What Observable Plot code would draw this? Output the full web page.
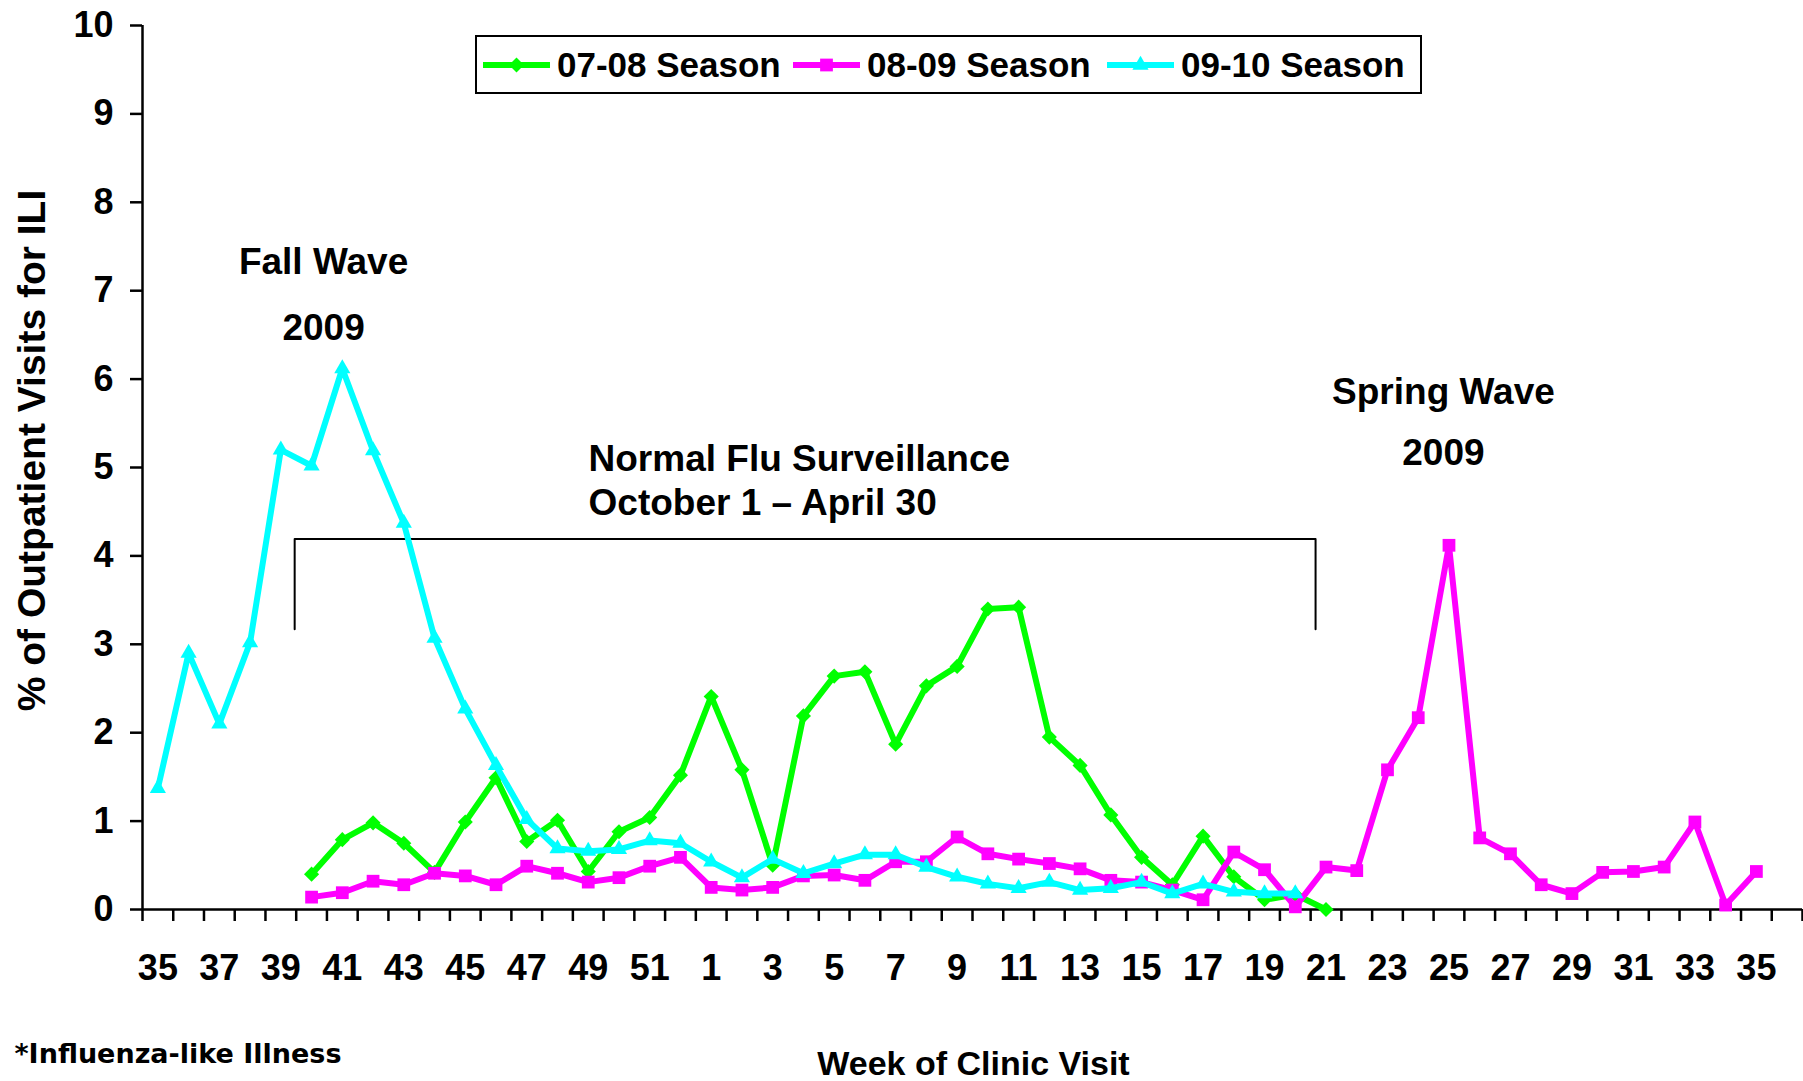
<!DOCTYPE html>
<html>
<head>
<meta charset="utf-8">
<script src="https://cdn.jsdelivr.net/npm/d3@7"></script>
<script src="https://cdn.jsdelivr.net/npm/@observablehq/plot@0.6"></script>
<style>
html, body { margin: 0; padding: 0; background: #fff; }
#wrap { position: relative; width: 1803px; height: 1081px; font-family: "Liberation Sans", Arial, sans-serif; font-weight: bold; color: #000; overflow: hidden; }
#legend { position: absolute; left: 475px; top: 35px; width: 947px; height: 59px; box-sizing: border-box; border: 2px solid #000; background: #fff; }
.item { position: absolute; top: 0; height: 55px; display: flex; align-items: center; font-size: 35px; white-space: nowrap; }
.item svg { margin-right: 7px; display: block; }
</style>
</head>
<body>
<div id="wrap"></div>
<script>
// ---------- data ----------
const weeks = [35,36,37,38,39,40,41,42,43,44,45,46,47,48,49,50,51,52,
  1,2,3,4,5,6,7,8,9,10,11,12,13,14,15,16,17,18,19,20,21,22,23,24,25,26,27,28,29,30,31,32,33,34,35];

const season0708 = [null,null,null,null,null,
  0.40,0.79,0.98,0.75,0.42,0.99,1.49,0.77,1.01,0.43,0.88,1.04,1.52,
  2.41,1.58,0.50,2.19,2.64,2.69,1.87,2.53,2.75,3.40,3.42,1.95,1.63,1.07,0.59,0.28,0.83,0.37,0.11,0.17,0.00,
  null,null,null,null,null,null,null,null,null,null,null,null,null,null];

const season0809 = [null,null,null,null,null,
  0.14,0.19,0.32,0.28,0.41,0.38,0.28,0.49,0.41,0.31,0.36,0.49,0.59,
  0.25,0.22,0.25,0.38,0.39,0.33,0.54,0.54,0.82,0.63,0.57,0.52,0.46,0.33,0.31,0.22,0.11,0.65,0.45,0.03,0.48,
  0.44,1.58,2.17,4.12,0.81,0.63,0.28,0.18,0.42,0.43,0.48,0.99,0.05,0.43];

const season0910 = [1.37,2.90,2.10,3.02,5.20,5.02,6.12,5.19,4.37,3.07,2.27,1.63,1.02,0.69,0.66,0.68,0.78,0.75,
  0.54,0.36,0.57,0.41,0.52,0.62,0.62,0.48,0.37,0.29,0.24,0.31,0.22,0.24,0.31,0.18,0.29,0.20,0.18,0.18,
  null,null,null,null,null,null,null,null,null,null,null,null,null,null,null];

const seasonNames = ["07-08 Season", "08-09 Season", "09-10 Season"];
const yTicks = [0,1,2,3,4,5,6,7,8,9,10];
const yTitle = "% of Outpatient Visits for ILI";
const xTitle = "Week of Clinic Visit";
const footnote = "*Influenza-like Illness";

// centred wave annotations (week slot, % value)
const waveText = ["Fall Wave", "2009", "Spring Wave", "2009"];
const waveSlot = [5.39, 5.39, 41.82, 41.82];
const waveValue = [7.19, 6.44, 5.72, 5.03];
// left-aligned surveillance annotation
const surveillanceText = ["Normal Flu Surveillance", "October 1 \u2013 April 30"];
const surveillanceSlot = [14.01, 14.01];
const surveillanceValue = [4.96, 4.46];
// bracket spanning normal surveillance period (slots / values)
const bracketSlot = [4.45, 4.45, 37.66, 37.66];
const bracketValue = [3.17, 4.19, 4.19, 3.17];

// ---------- build ----------
const seriesStyle = [
  {values: season0708, color: "#00FF00", symbol: "diamond2", r: 6.8},
  {values: season0809, color: "#FF00FF", symbol: "square", r: 7.2},
  {values: season0910, color: "#00FFFF", symbol: "triangle", r: 6}
];

const rows = seriesStyle.map((s, k) =>
  s.values.map((v, i) => ({slot: i, value: v, season: seasonNames[k]})).filter(d => d.value != null));

const boundaries = d3.range(-0.5, weeks.length + 1, 1);
const labelSlots = weeks.map((w, i) => i).filter(i => i % 2 === 0);
const waves = waveText.map((t, i) => ({text: t, slot: waveSlot[i], value: waveValue[i]}));
const surveillance = surveillanceText.map((t, i) => ({text: t, slot: surveillanceSlot[i], value: surveillanceValue[i]}));
const bracket = bracketSlot.map((s, i) => ({slot: s, value: bracketValue[i]}));

const seriesMarks = [];
seriesStyle.forEach((s, k) => {
  seriesMarks.push(Plot.line(rows[k], {x: "slot", y: "value", stroke: s.color, strokeWidth: 6, strokeLinejoin: "miter", strokeLinecap: "butt"}));
  seriesMarks.push(Plot.dot(rows[k], {x: "slot", y: "value", fill: s.color, stroke: "none", symbol: s.symbol, r: s.r}));
});

const chart = Plot.plot({
  width: 1803,
  height: 1081,
  marginLeft: 142,
  marginRight: 1,
  marginTop: 25,
  marginBottom: 172,
  style: {fontFamily: "'Liberation Sans', Arial, sans-serif", fontWeight: "bold", fontSize: "36px", color: "#000", background: "#fff", overflow: "visible"},
  x: {domain: [-0.5, weeks.length + 0.5], label: null},
  y: {domain: [0, 10], label: null},
  marks: [
    Plot.ruleY([0], {stroke: "#000", strokeWidth: 2.5}),
    Plot.ruleX([-0.5], {stroke: "#000", strokeWidth: 2.5}),
    Plot.axisY({ticks: yTicks, tickSize: 12, tickPadding: 17, fontSize: 36, label: null, strokeWidth: 2.5, stroke: "#000"}),
    Plot.axisX({ticks: boundaries, tickSize: 12, tickFormat: () => "", label: null, strokeWidth: 2.5, stroke: "#000"}),
    Plot.axisX({ticks: labelSlots, tickSize: 0, tickPadding: 45, tickFormat: i => weeks[i], fontSize: 36, label: null}),
    Plot.text([yTitle], {frameAnchor: "left", textAnchor: "middle", rotate: -90, dx: -109.5, dy: -17, fontSize: 39, fill: "#000"}),
    Plot.text([xTitle], {frameAnchor: "bottom", textAnchor: "middle", dx: 1, dy: 165, lineAnchor: "bottom", fontSize: 34, fill: "#000"}),
    Plot.text([footnote], {frameAnchor: "bottom-left", dx: -128, dy: 153, lineAnchor: "bottom", textAnchor: "start", fontSize: 27, fontFamily: "'DejaVu Sans', Verdana, sans-serif", fill: "#000"}),
    Plot.line(bracket, {x: "slot", y: "value", stroke: "#000", strokeWidth: 2}),
    Plot.text(waves, {x: "slot", y: "value", text: "text", textAnchor: "middle", lineAnchor: "bottom", fontSize: 37, fill: "#000"}),
    Plot.text(surveillance, {x: "slot", y: "value", text: "text", textAnchor: "start", lineAnchor: "bottom", fontSize: 37, fill: "#000"}),
    ...seriesMarks
  ]
});

const wrap = document.getElementById("wrap");
wrap.appendChild(chart);

// ---------- legend ----------
const legend = document.createElement("div");
legend.id = "legend";
const itemLeft = [6, 316, 630];
seriesStyle.forEach((s, k) => {
  const item = document.createElement("div");
  item.className = "item";
  item.style.left = itemLeft[k] + "px";
  const sw = d3.create("svg").attr("width", 67).attr("height", 24);
  sw.append("line").attr("x1", 0).attr("x2", 67).attr("y1", 12).attr("y2", 12).attr("stroke", s.color).attr("stroke-width", 6);
  const symType = {diamond2: d3.symbolDiamond2, square: d3.symbolSquare, triangle: d3.symbolTriangle}[s.symbol];
  sw.append("path").attr("transform", "translate(33.5,12)").attr("fill", s.color)
    .attr("d", d3.symbol(symType, Math.PI * s.r * s.r)());
  item.appendChild(sw.node());
  const span = document.createElement("span");
  span.textContent = seasonNames[k];
  item.appendChild(span);
  legend.appendChild(item);
});
wrap.appendChild(legend);
</script>
</body>
</html>
